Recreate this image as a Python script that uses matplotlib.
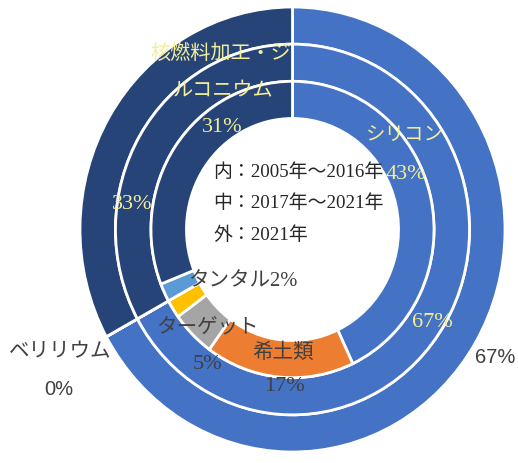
import matplotlib
matplotlib.use("Agg")
import matplotlib.pyplot as plt

plt.rcParams['font.family'] = ['Liberation Serif', 'Noto Sans CJK JP', 'DejaVu Sans']

# data: inner = 2005-2016, middle = 2017-2021, outer = 2021
categories = ['シリコン', '希土類', 'ターゲット', 'ベリリウム', 'タンタル', '核燃料加工・ジルコニウム']
inner_vals = [43, 17, 5, 2, 2, 31]
middle_vals = [67, 0, 0, 0, 0, 33]
outer_vals = [67, 0, 0, 0, 0, 33]
colors = ['#4472C4', '#ED7D31', '#A5A5A5', '#FFC000', '#5B9BD5', '#264478']
legend_lines = ['内：2005年～2016年', '中：2017年～2021年', '外：2021年']

# pixel geometry of the reference (the doughnut is slightly taller than wide)
CX, CY = 292.5, 230.5
RX, RY = 212.5, 222.5
W, H = 518, 464


def px(x, y):
  # pixel position -> data position
  return (x - CX) / RX, (CY - y) / RY


fig = plt.figure(figsize=(W / 100, H / 100), dpi=100)
ax = fig.add_axes([0, 0, 1, 1])

rings = [(outer_vals, 1.0), (middle_vals, 0.833), (inner_vals, 0.666)]
for vals, r in rings:
  ax.pie(vals, radius=r, colors=colors, startangle=90, counterclock=False,
         wedgeprops=dict(width=0.167, edgecolor='white', linewidth=2))

ax.set_aspect('auto')
x0, y0 = px(0, H)
x1, y1 = px(W, 0)
ax.set_xlim(x0, x1)
ax.set_ylim(y0, y1)
ax.axis('off')

yellow = '#F3EF96'
dark = '#404040'
jp = ['Liberation Serif', 'Noto Sans CJK JP']
sans = ['Liberation Sans', 'DejaVu Sans']

# data labels: (text, x px, y px, color, family, size)
labels = [
  ('核燃料加工・ジ', 221, 54, yellow, jp, 14.5),
  ('ルコニウム', 223, 92, yellow, jp, 14.5),
  ('%d%%' % inner_vals[5], 222, 128, yellow, jp, 16),
  (categories[0], 405, 135, yellow, jp, 14),
  ('%d%%' % inner_vals[0], 406, 175, yellow, jp, 16),
  ('%d%%' % middle_vals[5], 132, 205, yellow, jp, 16),
  ('%d%%' % middle_vals[0], 432, 323, yellow, jp, 16),
  ('%d%%' % outer_vals[0], 495, 358, dark, sans, 14.5),
  (categories[3], 60, 353, dark, jp, 14.8),
  ('%d%%' % outer_vals[3], 59, 390, dark, sans, 14.5),
  ('%s%d%%' % (categories[4], inner_vals[4]), 243, 282, dark, jp, 14.8),
  (categories[2], 207, 328, dark, jp, 14.8),
  ('%d%%' % inner_vals[2], 207, 365, dark, jp, 16),
  (categories[1], 283, 353, dark, jp, 14.8),
  ('%d%%' % inner_vals[1], 284, 387, dark, jp, 16),
]
for txt, x, y, c, fam, fs in labels:
  tx, ty = px(x, y)
  ax.text(tx, ty, txt, color=c, family=fam, fontsize=fs, ha='center', va='center')

# period legend in the hole
for i, line in enumerate(legend_lines):
  tx, ty = px(213, 172 + i * 31.5)
  ax.text(tx, ty, line, color='#262626', family=jp, fontsize=13.6, ha='left', va='center')

plt.savefig('out.png', dpi=100)
plt.close()
